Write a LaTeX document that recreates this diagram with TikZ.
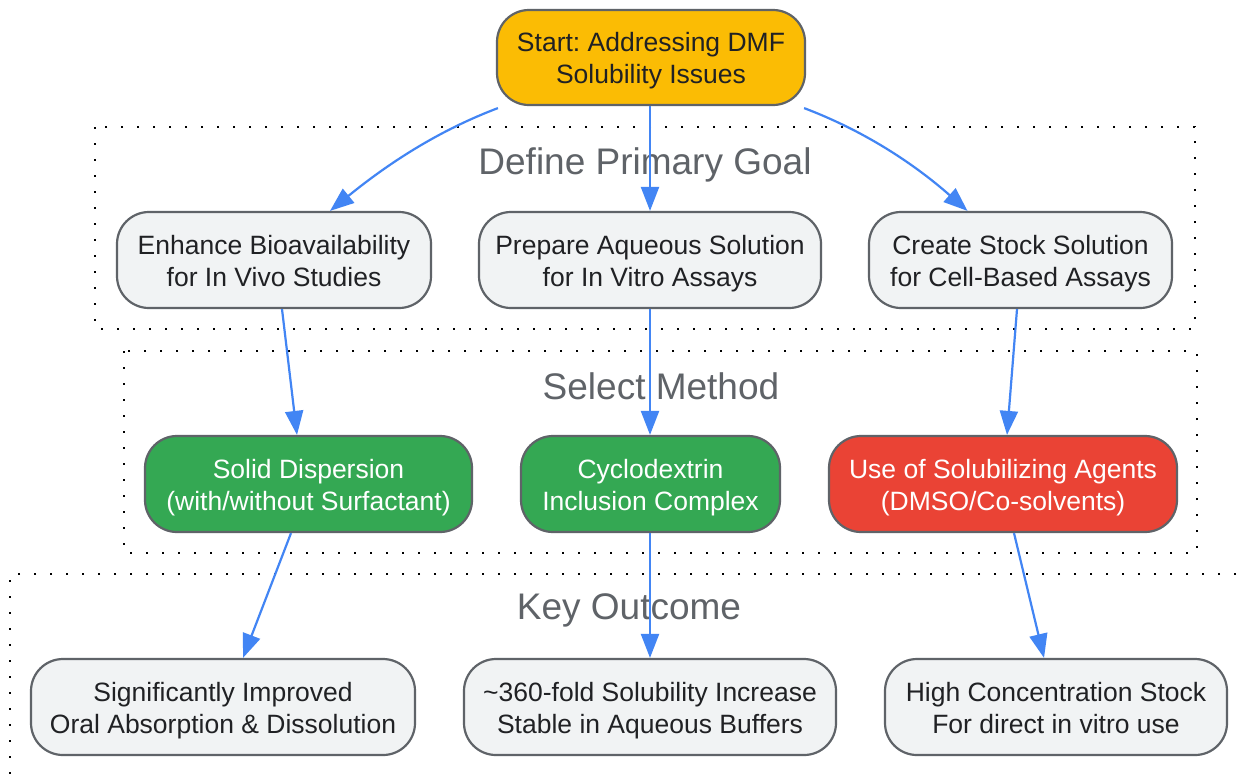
\documentclass[tikz,border=0pt]{standalone}
\usepackage{fontspec}
\setmainfont{Liberation Sans}
\usetikzlibrary{arrows.meta,calc}
\frenchspacing
\definecolor{amber}{HTML}{FBBC04}
\definecolor{lgrey}{HTML}{F1F3F4}
\definecolor{bord}{HTML}{5F6368}
\definecolor{gblue}{HTML}{4285F4}
\definecolor{ggreen}{HTML}{34A853}
\definecolor{gred}{HTML}{EA4335}
\definecolor{txt}{HTML}{202124}
\definecolor{clab}{HTML}{5F6368}
\newcommand\bxtext[1]{\smash{\raisebox{5.7pt}{\begin{tabular}[t]{@{}c@{}}#1\end{tabular}}}}
\tikzset{
  box/.style={draw=bord, line width=2.2pt, rounded corners=32pt,
    font=\fontsize{26.5}{31.7}\selectfont, text=txt, inner sep=0pt,
    minimum height=96pt},
  greybox/.style={box, fill=lgrey},
  greenbox/.style={box, fill=ggreen, text=white},
  redbox/.style={box, fill=gred, text=white},
  startbox/.style={box, fill=amber, minimum height=95pt},
  cluster/.style={draw=black, line width=2.2pt, dash pattern=on 2.2pt off 13.8pt},
  clabel/.style={font=\fontsize{37}{44}\selectfont, text=clab, inner sep=0pt, anchor=base},
  edge/.style={draw=gblue, line width=2.2pt, -{Triangle[length=24pt,width=18pt]}}
}
\begin{document}
\begin{tikzpicture}[x=1pt,y=-1pt]
\useasboundingbox (0,0) rectangle (1241,774);
\fill[white] (0,0) rectangle (1241,774);
% clusters
\draw[cluster] (95,127) rectangle (1195,329);
\draw[cluster] (124,351) rectangle (1197,553);
\draw[cluster] (1300,574) -- (10,574) -- (10,820);
\node[clabel] (lgoal) at (645,174.3) {Define Primary Goal};
\node[clabel] (lmeth) at (661,399) {Select Method};
\node[clabel] (lout) at (629,619.3) {Key Outcome};
% nodes
\node[startbox, minimum width=308pt] (start) at (651,57.5) {\bxtext{Start: Addressing DMF\\Solubility Issues}};
\node[greybox, minimum width=314pt] (enh) at (274,260) {\bxtext{Enhance Bioavailability\\for In Vivo Studies}};
\node[greybox, minimum width=342pt] (prep) at (650,260) {\bxtext{Prepare Aqueous Solution\\for In Vitro Assays}};
\node[greybox, minimum width=303pt] (cre) at (1020.5,260) {\bxtext{Create Stock Solution\\for Cell-Based Assays}};
\node[greenbox, minimum width=327pt] (sol) at (308.5,484) {\bxtext{Solid Dispersion\\(with/without Surfactant)}};
\node[greenbox, minimum width=259pt] (cyc) at (650.5,484) {\bxtext{Cyclodextrin\\Inclusion Complex}};
\node[redbox, minimum width=348pt] (use) at (1003,484) {\bxtext{Use of Solubilizing Agents\\(DMSO/Co-solvents)}};
\node[greybox, minimum width=384pt] (sig) at (223,707) {\bxtext{Significantly Improved\\Oral Absorption \& Dissolution}};
\node[greybox, minimum width=372pt] (fold) at (650,707) {\bxtext{\textasciitilde360-fold Solubility Increase\\Stable in Aqueous Buffers}};
\node[greybox, minimum width=342pt] (high) at (1056,707) {\bxtext{High Concentration Stock\\For direct in vitro use}};
% edges
\draw[edge] ([xshift=2pt,yshift=-2pt]start.south west) .. controls (440,130) and (390,162) .. ([xshift=56pt]enh.north);
\draw[edge] ([xshift=-1pt]start.south) -- (prep.north);
\draw[edge] ([xshift=-2pt,yshift=-2pt]start.south east) .. controls (862,130) and (912,162) .. ([xshift=-53pt]cre.north);
\draw[edge] ([xshift=8pt]enh.south) -- ([xshift=-11.5pt]sol.north);
\draw[edge] (prep.south) -- ([xshift=-0.5pt]cyc.north);
\draw[edge] ([xshift=-3.5pt]cre.south) -- ([xshift=4pt]use.north);
\draw[edge] ([xshift=-17.5pt]sol.south) -- ([xshift=20pt]sig.north);
\draw[edge] ([xshift=-0.5pt]cyc.south) -- (fold.north);
\draw[edge] ([xshift=11pt]use.south) -- ([xshift=-12pt]high.north);
\end{tikzpicture}
\end{document}
